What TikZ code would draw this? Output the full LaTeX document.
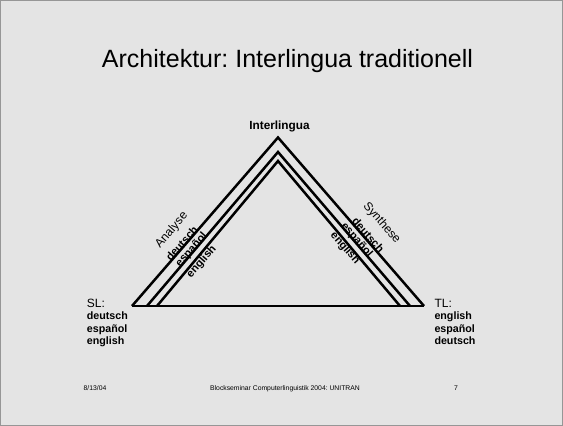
\documentclass[tikz,border=0pt]{standalone}
\usepackage{fontspec}
\setmainfont{Liberation Sans}
\frenchspacing
\definecolor{bgcol}{RGB}{228,228,228}
\definecolor{framecol}{RGB}{150,150,150}
\tikzset{
  x=1pt, y=1pt,
  tri/.style={line width=2.5pt, line join=miter},
  baseln/.style={line width=1.8pt},
  lbl/.style={inner sep=0pt, font=\fontsize{12}{14}\selectfont},
  lang/.style={inner sep=0pt, font=\fontsize{11}{13}\selectfont\bfseries},
  listtxt/.style={inner sep=0pt, anchor=north west, align=left,
    font=\fontsize{10.7}{12.5}\selectfont\bfseries},
  foot/.style={inner sep=0pt, anchor=base, font=\fontsize{6.8}{8}\selectfont}
}
\begin{document}
\begin{tikzpicture}
\useasboundingbox (0,0) rectangle (563,426);
\fill[bgcol] (0,0) rectangle (563,426);
\draw[framecol, line width=1pt] (0.5,0.5) rectangle (562.5,425.5);

% title
\node[inner sep=0pt, anchor=base, font=\fontsize{25}{30}\selectfont] (title) at (287.5,358) {Architektur: Interlingua traditionell};

% apex label
\node[inner sep=0pt, anchor=base, font=\fontsize{11.8}{14}\selectfont\bfseries] (il) at (279.5,296) {Interlingua};

% triangle corners
\coordinate (A1) at (278,288.5);
\coordinate (A2) at (278,274);
\coordinate (A3) at (278,265);
\coordinate (L1) at (132,120);
\coordinate (L2) at (147,120);
\coordinate (L3) at (157,120);
\coordinate (R1) at (424,120);
\coordinate (R2) at (410,120);
\coordinate (R3) at (400,120);

\draw[tri] (L1) -- (A1) -- (R1);
\draw[tri] (L2) -- (A2) -- (R2);
\draw[tri] (L3) -- (A3) -- (R3);
\draw[baseln] (L1) -- (R1);

% left labels
\node[lbl, rotate=49] (ana) at (171.7,196) {Analyse};
\node[lang, rotate=49] (lde) at (181.7,182.7) {deutsch};
\node[lang, rotate=49] (les) at (191.7,176) {español};
\node[lang, rotate=49] (len) at (201.7,164.3) {english};

% right labels
\node[lbl, rotate=-49] (syn) at (381.7,203) {Synthese};
\node[lang, rotate=-49] (rde) at (368.3,191) {deutsch};
\node[lang, rotate=-49] (res) at (356.7,186) {español};
\node[lang, rotate=-49] (ren) at (345,177.7) {english};

% SL / TL
\node[inner sep=0pt, anchor=base west, font=\fontsize{12}{14}\selectfont] (sl) at (86.7,118) {SL:};
\node[listtxt] (sll) at (86.7,114) {deutsch\\español\\english};
\node[inner sep=0pt, anchor=base west, font=\fontsize{12}{14}\selectfont] (tl) at (434.3,118) {TL:};
\node[listtxt] (tll) at (434.3,114) {english\\español\\deutsch};

% footer
\node[foot] (date) at (95,35) {8/13/04};
\node[foot] (ftitle) at (285,35) {Blockseminar Computerlinguistik 2004: UNITRAN};
\node[foot] (pg) at (456,35) {7};
\end{tikzpicture}
\end{document}
